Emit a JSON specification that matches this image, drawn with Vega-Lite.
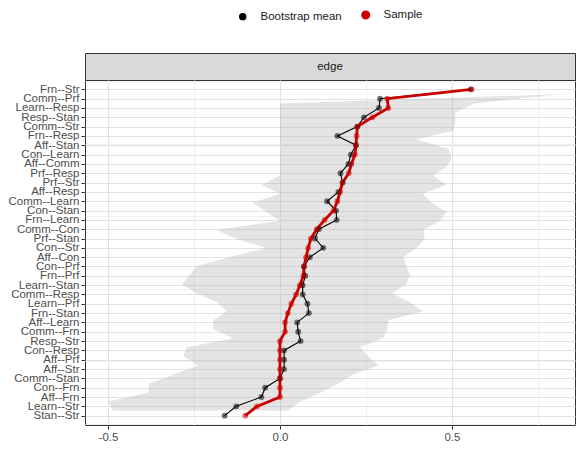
{
  "$schema": "https://vega.github.io/schema/vega-lite/v6.json",
  "padding": {"left": 7, "top": 9, "right": 1, "bottom": 5},
  "datasets": {
    "edges": [
      {"id": 1, "edge": "Frn--Str", "Sample": 0.557, "Bootstrap mean": 0.555, "lower": 0.79, "upper": 0.81},
      {"id": 2, "edge": "Comm--Prf", "Sample": 0.312, "Bootstrap mean": 0.291, "lower": 0.0, "upper": 0.565},
      {"id": 3, "edge": "Learn--Resp", "Sample": 0.315, "Bootstrap mean": 0.288, "lower": 0.0, "upper": 0.51},
      {"id": 4, "edge": "Resp--Stan", "Sample": 0.269, "Bootstrap mean": 0.244, "lower": 0.0, "upper": 0.51},
      {"id": 5, "edge": "Comm--Str", "Sample": 0.225, "Bootstrap mean": 0.225, "lower": 0.0, "upper": 0.505},
      {"id": 6, "edge": "Frn--Resp", "Sample": 0.223, "Bootstrap mean": 0.167, "lower": 0.0, "upper": 0.397},
      {"id": 7, "edge": "Aff--Stan", "Sample": 0.221, "Bootstrap mean": 0.221, "lower": 0.0, "upper": 0.489},
      {"id": 8, "edge": "Con--Learn", "Sample": 0.218, "Bootstrap mean": 0.206, "lower": 0.0, "upper": 0.499},
      {"id": 9, "edge": "Aff--Comm", "Sample": 0.208, "Bootstrap mean": 0.199, "lower": 0.0, "upper": 0.485},
      {"id": 10, "edge": "Prf--Resp", "Sample": 0.2, "Bootstrap mean": 0.176, "lower": 0.0, "upper": 0.446},
      {"id": 11, "edge": "Prf--Str", "Sample": 0.182, "Bootstrap mean": 0.182, "lower": -0.053, "upper": 0.485},
      {"id": 12, "edge": "Aff--Resp", "Sample": 0.175, "Bootstrap mean": 0.17, "lower": 0.0, "upper": 0.415},
      {"id": 13, "edge": "Comm--Learn", "Sample": 0.167, "Bootstrap mean": 0.137, "lower": -0.08, "upper": 0.441},
      {"id": 14, "edge": "Con--Stan", "Sample": 0.156, "Bootstrap mean": 0.163, "lower": -0.04, "upper": 0.485},
      {"id": 15, "edge": "Frn--Learn", "Sample": 0.13, "Bootstrap mean": 0.165, "lower": 0.0, "upper": 0.465},
      {"id": 16, "edge": "Comm--Con", "Sample": 0.107, "Bootstrap mean": 0.113, "lower": -0.184, "upper": 0.417},
      {"id": 17, "edge": "Prf--Stan", "Sample": 0.09, "Bootstrap mean": 0.102, "lower": -0.126, "upper": 0.421},
      {"id": 18, "edge": "Con--Str", "Sample": 0.082, "Bootstrap mean": 0.126, "lower": -0.039, "upper": 0.397},
      {"id": 19, "edge": "Aff--Con", "Sample": 0.076, "Bootstrap mean": 0.087, "lower": -0.145, "upper": 0.359},
      {"id": 20, "edge": "Con--Prf", "Sample": 0.07, "Bootstrap mean": 0.07, "lower": -0.242, "upper": 0.368},
      {"id": 21, "edge": "Frn--Prf", "Sample": 0.068, "Bootstrap mean": 0.074, "lower": -0.262, "upper": 0.378},
      {"id": 22, "edge": "Learn--Stan", "Sample": 0.058, "Bootstrap mean": 0.066, "lower": -0.286, "upper": 0.368},
      {"id": 23, "edge": "Comm--Resp", "Sample": 0.047, "Bootstrap mean": 0.066, "lower": -0.242, "upper": 0.325},
      {"id": 24, "edge": "Learn--Prf", "Sample": 0.033, "Bootstrap mean": 0.08, "lower": -0.184, "upper": 0.378},
      {"id": 25, "edge": "Frn--Stan", "Sample": 0.023, "Bootstrap mean": 0.084, "lower": -0.155, "upper": 0.417},
      {"id": 26, "edge": "Aff--Learn", "Sample": 0.015, "Bootstrap mean": 0.05, "lower": -0.194, "upper": 0.315},
      {"id": 27, "edge": "Comm--Frn", "Sample": 0.015, "Bootstrap mean": 0.053, "lower": -0.194, "upper": 0.312},
      {"id": 28, "edge": "Resp--Str", "Sample": 0.0, "Bootstrap mean": 0.06, "lower": -0.136, "upper": 0.3},
      {"id": 29, "edge": "Con--Resp", "Sample": 0.0, "Bootstrap mean": 0.012, "lower": -0.271, "upper": 0.233},
      {"id": 30, "edge": "Aff--Prf", "Sample": 0.0, "Bootstrap mean": 0.012, "lower": -0.281, "upper": 0.257},
      {"id": 31, "edge": "Aff--Str", "Sample": 0.0, "Bootstrap mean": 0.012, "lower": -0.237, "upper": 0.286},
      {"id": 32, "edge": "Comm--Stan", "Sample": 0.0, "Bootstrap mean": 0.0, "lower": -0.31, "upper": 0.213},
      {"id": 33, "edge": "Con--Frn", "Sample": 0.0, "Bootstrap mean": -0.043, "lower": -0.38, "upper": 0.17},
      {"id": 34, "edge": "Aff--Frn", "Sample": 0.0, "Bootstrap mean": -0.054, "lower": -0.383, "upper": 0.12},
      {"id": 35, "edge": "Learn--Str", "Sample": -0.067, "Bootstrap mean": -0.127, "lower": -0.499, "upper": 0.06},
      {"id": 36, "edge": "Stan--Str", "Sample": -0.101, "Bootstrap mean": -0.161, "lower": -0.487, "upper": 0.022}
    ]
  },
  "spacing": 0,
  "bounds": "flush",
  "vconcat": [
    {
      "width": 490,
      "height": 27,
      "view": {"fill": "#d9d9d9", "stroke": "#333333", "strokeWidth": 1},
      "data": {"values": [{"label": "edge"}]},
      "mark": {"type": "text", "fontSize": 11.5, "color": "#1a1a1a"},
      "encoding": {"text": {"field": "label", "type": "nominal"}}
    },
    {
      "width": 490,
      "height": 345,
      "view": {"stroke": "#333333", "strokeWidth": 1},
      "layer": [
        {
          "data": {"name": "edges"},
          "layer": [
            {
              "mark": {"type": "tick", "opacity": 0},
              "encoding": {
                "y": {"field": "id", "type": "quantitative", "scale": {"domain": [-0.6, 37.6], "nice": false, "zero": false, "reverse": true},
                  "axis": {"title": null, "orient": "right", "labels": false, "ticks": false, "domain": false, "grid": true, "gridWidth": 0.8, "gridColor": "#eeeeee", "gridOpacity": 1,
                    "values": [-0.5,0,0.5,1.5,2.5,3.5,4.5,5.5,6.5,7.5,8.5,9.5,10.5,11.5,12.5,13.5,14.5,15.5,16.5,17.5,18.5,19.5,20.5,21.5,22.5,23.5,24.5,25.5,26.5,27.5,28.5,29.5,30.5,31.5,32.5,33.5,34.5,35.5,36.5,37,37.5]}}
              }
            },
            {
              "mark": {"type": "area", "orient": "horizontal", "color": "#b3b3b3", "opacity": 0.35},
              "encoding": {
                "y": {"field": "id", "type": "quantitative"},
                "x": {"field": "lower", "type": "quantitative", "scale": {"domain": [-0.567, 0.858], "nice": false, "zero": false},
                  "axis": {"title": null, "domain": false, "values": [-0.5, -0.25, 0, 0.25, 0.5, 0.75],
                    "labelExpr": "datum.value % 0.5 === 0 ? replace(format(datum.value, '.1f'), '\u2212', '-') : ''",
                    "tickOpacity": {"condition": {"test": "datum.value % 0.5 === 0", "value": 1}, "value": 0},
                    "gridWidth": 1,
                    "gridColor": {"condition": {"test": "datum.value % 0.5 === 0", "value": "#e2e2e2"}, "value": "#eeeeee"},
                    "tickSize": 4, "labelPadding": 2, "labelFontSize": 11.5}},
                "x2": {"field": "upper"}
              }
            }
          ]
        },
        {
          "data": {"name": "edges"},
          "transform": [{"fold": ["Bootstrap mean", "Sample"], "as": ["key", "value"]}],
          "layer": [
            {
              "mark": {"type": "line"},
              "encoding": {
                "y": {"field": "edge", "type": "nominal", "sort": {"field": "id", "op": "min"}, "scale": {"type": "point", "padding": 1.6},
                  "axis": {"title": null, "orient": "left", "grid": true, "gridColor": "#e2e2e2", "gridWidth": 1, "domain": false, "tickSize": 4, "labelPadding": 2, "labelFontSize": 11.5}},
                "x": {"field": "value", "type": "quantitative"},
                "color": {"field": "key", "type": "nominal", "scale": {"domain": ["Bootstrap mean", "Sample"], "range": ["#000000", "#cc0000"]}},
                "strokeWidth": {"field": "key", "type": "nominal", "scale": {"domain": ["Bootstrap mean", "Sample"], "range": [1.1, 2.8]}, "legend": null},
                "order": {"field": "id", "type": "quantitative"}
              }
            },
            {
              "mark": {"type": "point", "filled": true, "size": 34, "opacity": 0.55},
              "encoding": {
                "y": {"field": "edge", "type": "nominal", "sort": {"field": "id", "op": "min"}},
                "x": {"field": "value", "type": "quantitative"},
                "color": {"field": "key", "type": "nominal",
                  "legend": {"title": null, "orient": "top", "direction": "horizontal", "symbolType": "circle", "symbolSize": 40, "symbolOpacity": 1, "symbolStrokeWidth": 0, "labelFontSize": 11.5, "labelColor": "#1a1a1a", "labelOffset": 12, "columnPadding": 14, "offset": 28}}
              }
            }
          ]
        }
      ],
      "resolve": {"scale": {"y": "independent"}, "axis": {"y": "independent"}}
    }
  ],
  "config": {
    "font": "Liberation Sans",
    "view": {"stroke": null},
    "axis": {"labelColor": "#4d4d4d", "tickColor": "#333333"},
    "legend": {"layout": {"top": {"anchor": "middle"}}}
  }
}
